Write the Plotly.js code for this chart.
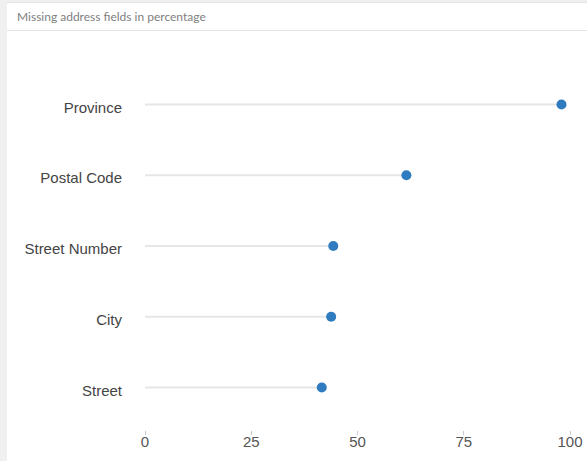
<!DOCTYPE html>
<html>
<head>
<meta charset="utf-8">
<script src="https://cdn.plot.ly/plotly-3.0.1.min.js"></script>
<style>
  html, body { margin: 0; padding: 0; background: #f0f0f0; width: 587px; height: 461px; overflow: hidden; }
  #panel { position: absolute; left: 7px; top: 2px; width: 580px; height: 459px; background: #fff; border-top: 1px solid #e4e4e4; box-sizing: border-box; }
  #sep { position: absolute; left: 7px; top: 30px; width: 580px; height: 1px; background: #e4e4e4; }
  #chart { position: absolute; left: 0; top: 0; width: 587px; height: 461px; }
</style>
</head>
<body>
<div id="panel"></div>
<div id="sep"></div>
<div id="chart"></div>
<script>
const chartTitle = "Missing address fields in percentage";
const categories = ["Province", "Postal Code", "Street Number", "City", "Street"];
const values = [98.0, 61.5, 44.3, 43.8, 41.6];
const xTicks = [0, 25, 50, 75, 100];

const lineX = [], lineY = [];
categories.forEach((c, i) => { lineX.push(0, values[i], null); lineY.push(c, c, null); });

const traces = [
  { type: "scatter", mode: "lines", x: lineX, y: lineY,
    line: { color: "#e6e6e6", width: 2 }, hoverinfo: "skip", showlegend: false, cliponaxis: false },
  { type: "scatter", mode: "markers", x: values, y: categories,
    marker: { color: "#2e7bbf", size: 10 }, showlegend: false, cliponaxis: false }
];

const layout = {
  width: 587, height: 461,
  margin: { l: 145, r: 17, t: 62, b: 31 },
  paper_bgcolor: "rgba(0,0,0,0)", plot_bgcolor: "rgba(0,0,0,0)",
  title: { text: chartTitle, xref: "container", yref: "container", x: 17/587, xanchor: "left",
           y: 1 - 17/461, yanchor: "middle",
           font: { family: "Lato, 'Open Sans', sans-serif", size: 12, color: "#808080" } },
  xaxis: { range: [0, 100], tickvals: xTicks, ticktext: xTicks.map(String),
           showgrid: false, zeroline: false, showline: false,
           ticks: "outside", ticklen: 4, tickwidth: 1, tickcolor: "#c8c8c8",
           ticklabelstandoff: -6,
           tickfont: { family: "'Liberation Sans', Arial, sans-serif", size: 15, color: "#555" } },
  yaxis: { type: "category", categoryorder: "array", categoryarray: categories.slice().reverse(),
           range: [-0.6, 4.6], showgrid: false, zeroline: false, showline: false,
           ticks: "", ticklabelstandoff: 22, ticklabelshift: 3,
           tickfont: { family: "'Liberation Sans', Arial, sans-serif", size: 15, color: "#444" } }
};

Plotly.newPlot("chart", traces, layout, { displayModeBar: false, staticPlot: true });
</script>
</body>
</html>
